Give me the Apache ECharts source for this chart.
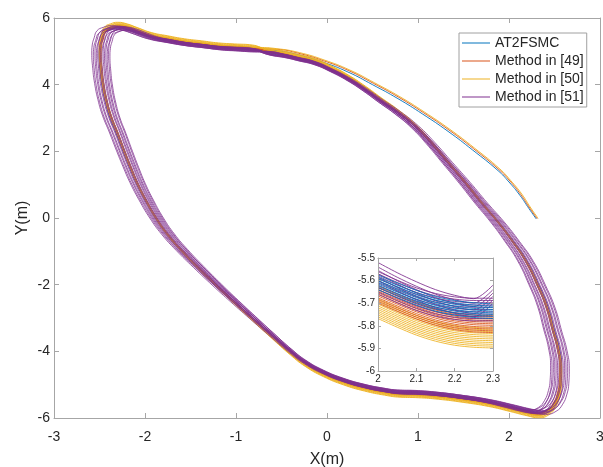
<!DOCTYPE html>
<html><head><meta charset="utf-8">
<script src="https://cdn.jsdelivr.net/npm/echarts@6/dist/echarts.min.js"></script>
<style>html,body{margin:0;padding:0;background:#fff}#c{width:603px;height:467px}</style>
</head><body><div id="c"></div>
<script>
// ---------- DATA ----------
const methodNames = ['AT2FSMC', 'Method in [49]', 'Method in [50]', 'Method in [51]'];
const xTicksMain = [-3, -2, -1, 0, 1, 2, 3];
const yTicksMain = [-6, -4, -2, 0, 2, 4, 6];
const xTicksInset = [2, 2.1, 2.2, 2.3];
const yTicksInset = [-6, -5.9, -5.8, -5.7, -5.6, -5.5];

// steady lap path (X, Y in m)
const baseLoop = [
  [-0.82, 5.04], [-1.01, 5.07], [-1.19, 5.10], [-1.37, 5.16], [-1.56, 5.22], [-1.75, 5.31],
  [-1.92, 5.40], [-2.08, 5.55], [-2.19, 5.655], [-2.29, 5.70], [-2.37, 5.655], [-2.44, 5.55],
  [-2.47, 5.34], [-2.49, 5.13], [-2.495, 4.89], [-2.485, 4.44], [-2.465, 3.99], [-2.43, 3.51],
  [-2.38, 3.03], [-2.31, 2.55], [-2.235, 2.01], [-2.165, 1.53], [-2.09, 1.05], [-1.995, 0.54],
  [-1.88, 0.00], [-1.755, -0.48], [-1.60, -0.96], [-1.415, -1.47], [-1.21, -2.01], [-1.02, -2.49],
  [-0.825, -2.97], [-0.615, -3.48], [-0.40, -3.99], [-0.24, -4.32], [-0.04, -4.62], [0.18, -4.86],
  [0.41, -5.04], [0.63, -5.16], [0.80, -5.22], [1.00, -5.235], [1.22, -5.28], [1.49, -5.37],
  [1.77, -5.49], [2.01, -5.64], [2.19, -5.76], [2.32, -5.82], [2.43, -5.73], [2.50, -5.52],
  [2.545, -5.22], [2.565, -4.90], [2.57, -4.47], [2.545, -3.92], [2.49, -3.36], [2.42, -2.67],
  [2.32, -2.01], [2.19, -1.29], [2.04, -0.69], [1.88, -0.12], [1.70, 0.45], [1.52, 1.05],
  [1.33, 1.65], [1.14, 2.25], [0.97, 2.73], [0.78, 3.15], [0.59, 3.51], [0.42, 3.84],
  [0.23, 4.17], [0.04, 4.44], [-0.14, 4.65], [-0.32, 4.77], [-0.46, 4.86], [-0.65, 4.95]
];

// initial approach paths from the start point (2.3, 0)
const startBlue = [[2.30, -0.03], [2.22, 0.28], [2.12, 0.68], [2.00, 1.08], [1.88, 1.42], [1.60, 2.04],
  [1.33, 2.60], [1.05, 3.12], [0.78, 3.58], [0.50, 4.00], [0.23, 4.38], [-0.05, 4.68], [-0.32, 4.90], [-0.55, 5.02]];
const startOrange = [[2.31, -0.02], [2.23, 0.29], [2.13, 0.70], [2.01, 1.11], [1.89, 1.45], [1.61, 2.08],
  [1.34, 2.64], [1.06, 3.16], [0.79, 3.62], [0.51, 4.04], [0.24, 4.42], [-0.04, 4.72], [-0.31, 4.94], [-0.55, 5.06]];
const startYellow = [[2.32, -0.01], [2.24, 0.30], [2.14, 0.72], [2.02, 1.12], [1.90, 1.47], [1.62, 2.10],
  [1.35, 2.66], [1.07, 3.18], [0.80, 3.64], [0.52, 4.06], [0.25, 4.44], [-0.03, 4.74], [-0.30, 4.96], [-0.55, 5.08]];

// lap-to-lap spread of each method: [x scale, y scale]
const lapsBlue = [[1.000, 1.004], [0.997, 1.008], [1.003, 1.000], [1.000, 1.012]];
const lapsOrange = [[0.998, 1.008], [1.002, 1.012], [1.000, 1.016], [0.995, 1.005]];
const lapsYellow = [[0.998, 1.018], [1.002, 1.022], [1.000, 1.026], [0.996, 1.015], [1.004, 1.030]];
const lapsPurple = [[0.956, 0.992], [0.962, 1.004], [0.968, 0.988], [0.974, 1.000], [0.980, 0.995],
  [0.986, 1.008], [0.992, 0.990], [0.998, 1.002], [1.004, 0.996], [1.010, 1.010], [1.016, 0.993],
  [1.022, 1.005], [1.029, 0.998], [1.036, 1.012]];

// inset (zoom of x 2..2.3): sample X, per-method shape (drop from start) and start Y of each line
const insetX = [2.0, 2.05, 2.1, 2.15, 2.2, 2.25, 2.3];
const insetShapeBlue = [0, -0.035, -0.068, -0.095, -0.113, -0.123, -0.128];
const insetShapeOrange = [0, -0.036, -0.070, -0.098, -0.117, -0.127, -0.130];
const insetShapeYellow = [0, -0.038, -0.073, -0.100, -0.118, -0.127, -0.130];
const insetShapePurpleFlat = [0, -0.038, -0.072, -0.097, -0.112, -0.118, -0.118];
const insetShapePurpleTurn = [0, -0.045, -0.085, -0.120, -0.145, -0.160, -0.100];
const insetStartBlue = [-5.575, -5.585, -5.592, -5.600, -5.607, -5.615, -5.622, -5.630, -5.640];
const insetStartOrange = [-5.625, -5.632, -5.640, -5.647, -5.654, -5.661, -5.668, -5.676, -5.684, -5.692, -5.700];
const insetStartYellow = [-5.680, -5.688, -5.696, -5.704, -5.712, -5.720, -5.728, -5.736, -5.744, -5.752, -5.760, -5.768];
const insetStartPurpleTurn = [-5.520, -5.540, -5.555, -5.570, -5.585, -5.600];
const insetStartPurpleFlat = [-5.560, -5.570, -5.580, -5.590, -5.600, -5.610, -5.620, -5.630, -5.640, -5.650, -5.660];

// ---------- STYLE ----------
const colors = ['#0072BD', '#D95319', '#EDB120', '#7E2F8E'];
const FONT = 'Liberation Sans, Arial, Helvetica, sans-serif';
const TXT = '#262626';
const AX = '#a6a6a6';

function buildLaps(start, laps) {
  const out = start ? start.map(p => p.slice()) : [];
  laps.forEach(([sx, sy]) => baseLoop.forEach(([x, y]) => out.push([x * sx, y * sy])));
  return out;
}
const mainData = [
  buildLaps(startBlue, lapsBlue),
  buildLaps(startOrange, lapsOrange),
  buildLaps(startYellow, lapsYellow),
  buildLaps(null, lapsPurple)
];

const series = [];
mainData.forEach((d, i) => {
  series.push({
    name: methodNames[i], type: 'line', xAxisIndex: 0, yAxisIndex: 0, data: d,
    showSymbol: false, symbol: 'none', smooth: 0.5, animation: false,
    lineStyle: { color: colors[i], width: i === 3 ? 0.9 : 1, opacity: i === 3 ? 0.85 : 0.9 },
    itemStyle: { color: colors[i] }, z: 2 + i
  });
});
function insetLines(starts, shape, colorIdx, z) {
  starts.forEach(s => {
    series.push({
      name: 'inset ' + methodNames[colorIdx], type: 'line', xAxisIndex: 2, yAxisIndex: 2,
      data: insetX.map((x, k) => [x, s + shape[k]]), showSymbol: false, symbol: 'none',
      smooth: 0.3, animation: false, silent: true,
      lineStyle: { color: colors[colorIdx], width: 1, opacity: 0.85 }, z: z
    });
  });
}
insetLines(insetStartYellow, insetShapeYellow, 2, 10);
insetLines(insetStartOrange, insetShapeOrange, 1, 11);
insetLines(insetStartPurpleFlat, insetShapePurpleFlat, 3, 12);
insetLines(insetStartPurpleTurn, insetShapePurpleTurn, 3, 12);
insetLines(insetStartBlue, insetShapeBlue, 0, 13);

function xAx(grid, pos, ticks, showLab, fs, extra) {
  return Object.assign({
    type: 'value', gridIndex: grid, position: pos, min: ticks[0], max: ticks[ticks.length - 1],
    interval: +(ticks[1] - ticks[0]).toFixed(6),
    axisLine: { show: true, onZero: false, lineStyle: { color: AX, width: 1 } },
    axisTick: { show: true, inside: true, length: grid === 0 ? 5 : 3, lineStyle: { color: AX } },
    axisLabel: { show: showLab, fontSize: fs, color: TXT, fontFamily: FONT, margin: grid === 0 ? 12 : 3 },
    splitLine: { show: false }
  }, extra || {});
}
function yAx(grid, pos, ticks, showLab, fs, extra) {
  return Object.assign({
    type: 'value', gridIndex: grid, position: pos, min: ticks[0], max: ticks[ticks.length - 1],
    interval: +(ticks[1] - ticks[0]).toFixed(6),
    axisLine: { show: true, onZero: false, lineStyle: { color: AX, width: 1 } },
    axisTick: { show: true, inside: true, length: grid === 0 ? 5 : 3, lineStyle: { color: AX } },
    axisLabel: { show: showLab, fontSize: fs, color: TXT, fontFamily: FONT, margin: grid === 0 ? 4 : 3 },
    splitLine: { show: false }
  }, extra || {});
}

const option = {
  animation: false,
  backgroundColor: '#fff',
  textStyle: { fontFamily: FONT },
  grid: [
    { left: 54, top: 18, width: 546, height: 400, containLabel: false, outerBoundsMode: 'none' },
    { left: 378, top: 258, width: 115, height: 113, show: true, backgroundColor: '#fff', borderWidth: 0, z: 5,
      containLabel: false, outerBoundsMode: 'none' }
  ],
  xAxis: [
    xAx(0, 'bottom', xTicksMain, true, 14, { name: 'X(m)', nameLocation: 'middle', nameGap: 34,
      nameMoveOverlap: false, nameTextStyle: { fontSize: 16, color: TXT, fontFamily: FONT } }),
    xAx(0, 'top', xTicksMain, false, 14),
    xAx(1, 'bottom', xTicksInset, true, 10, { z: 20 }),
    xAx(1, 'top', xTicksInset, false, 10, { z: 20 })
  ],
  yAxis: [
    yAx(0, 'left', yTicksMain, true, 14, { name: 'Y(m)', nameLocation: 'middle', nameGap: 23,
      nameMoveOverlap: false, nameTextStyle: { fontSize: 16, color: TXT, fontFamily: FONT } }),
    yAx(0, 'right', yTicksMain, false, 14),
    yAx(1, 'left', yTicksInset, true, 10, { z: 20 }),
    yAx(1, 'right', yTicksInset, false, 10, { z: 20 })
  ],
  legend: {
    data: methodNames, orient: 'vertical', left: 459, top: 33,
    padding: [2, 3, 2, 3], itemGap: 2, itemWidth: 28, itemHeight: 1, icon: 'rect',
    backgroundColor: '#fff', borderColor: '#a0a0a0', borderWidth: 1, borderRadius: 0,
    textStyle: { fontSize: 14, color: TXT, fontFamily: FONT, lineHeight: 16 },
    selectedMode: false, z: 30
  },
  series: series
};
echarts.init(document.getElementById('c'), null, { renderer: 'canvas' }).setOption(option);
</script></body></html>
